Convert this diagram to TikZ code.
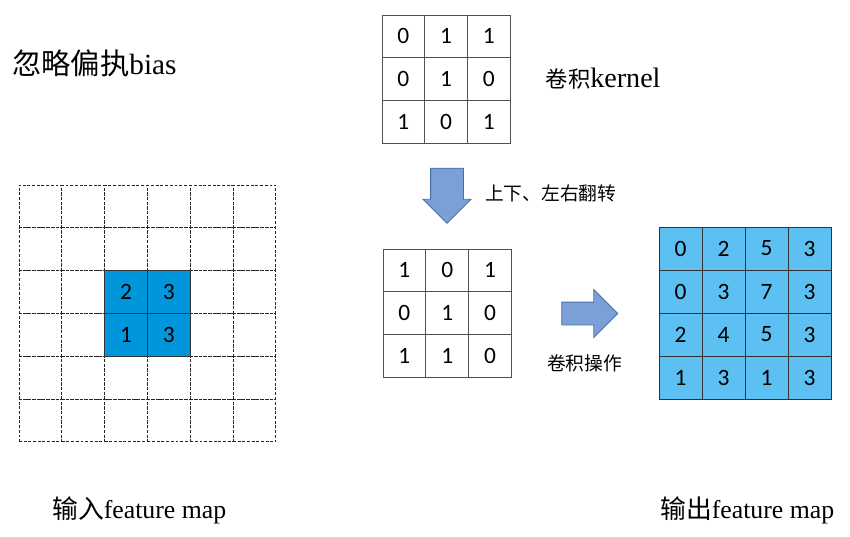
\documentclass[tikz,border=0pt]{standalone}
\usepackage{fontspec}
\setmainfont{Liberation Serif}
\newfontfamily\cjk{Noto Sans CJK SC}
\newfontfamily\digitfont{Carlito}
\usetikzlibrary{shapes.arrows, positioning}
\definecolor{inblue}{RGB}{0,150,220}
\definecolor{outblue}{RGB}{92,192,242}
\definecolor{arrowfill}{RGB}{122,160,214}
\definecolor{arrowline}{RGB}{72,110,170}
\definecolor{gridline}{RGB}{80,80,80}

\begin{document}
\begin{tikzpicture}[x=0.03cm, y=-0.03cm,
  cell/.style={rectangle, draw=gridline, line width=0.6pt, minimum size=1.285cm, inner sep=0, font=\digitfont\fontsize{20}{20}\selectfont},
  dcell/.style={rectangle, draw=black!85, line width=0.6pt, dash pattern=on 2.5pt off 1.5pt, minimum size=1.285cm, inner sep=0},
  hcell/.style={cell, draw=black!80, fill=inblue},
  ocell/.style={cell, draw=black!80, fill=outblue},
  blockarrow/.style={single arrow, draw=arrowline, fill=arrowfill, thick, inner xsep=0, single arrow head indent=0pt},
  lbl/.style={font=\fontsize{22}{22}\selectfont, inner sep=0, anchor=west},
  note/.style={font=\cjk\fontsize{16}{16}\selectfont, inner sep=0, anchor=west}
]
\useasboundingbox (0,0) rectangle (850,536);
% input feature map, 6x6 dashed
\foreach \r in {1,...,6}
  \foreach \c in {1,...,6}
    \node[dcell] (in-\r-\c) at ({19+42.8*(\c-0.5)},{185+42.8*(\r-0.5)}) {};
\foreach \r/\c/\v in {3/3/2, 3/4/3, 4/3/1, 4/4/3}
  \node[hcell] (hit-\r-\c) at (in-\r-\c) {\v};
% kernel
\foreach \row [count=\r] in {{0,1,1},{0,1,0},{1,0,1}}
  \foreach \v [count=\c] in \row
    \node[cell] (k-\r-\c) at ({382+42.7*(\c-0.5)},{15+42.7*(\r-0.5)}) {\v};
% flipped kernel
\foreach \row [count=\r] in {{1,0,1},{0,1,0},{1,1,0}}
  \foreach \v [count=\c] in \row
    \node[cell] (f-\r-\c) at ({383+42.8*(\c-0.5)},{249+42.8*(\r-0.5)}) {\v};
% output feature map
\foreach \row [count=\r] in {{0,2,5,3},{0,3,7,3},{2,4,5,3},{1,3,1,3}}
  \foreach \v [count=\c] in \row
    \node[ocell] (out-\r-\c) at ({659+43*(\c-0.5)},{227+43*(\r-0.5)}) {\v};
% block arrows
\node[blockarrow, rotate=-90, inner ysep=0.48cm, minimum height=1.65cm, single arrow head extend=0.225cm] (flip) at (447,187.5) {};
\node[blockarrow, inner ysep=0.33cm, minimum height=1.68cm, single arrow head extend=0.375cm] (conv) at (584,313.5) {};
% labels
\node[lbl, font=\fontsize{25}{25}\selectfont] (title) at (12,63) {{\cjk 忽略偏执}bias};
\node[lbl, font=\fontsize{24}{24}\selectfont, right=1.05cm of k-2-3] (kname) {{\cjk\fontsize{19}{19}\selectfont 卷积}kernel};
\node[note] (fliptext) at (485,193) {上下、左右翻转};
\node[note] (convtext) at (547,363) {卷积操作};
\node[lbl] (inname) at (52,510) {{\cjk 输入}feature map};
\node[lbl] (outname) at (660,510) {{\cjk 输出}feature map};
\end{tikzpicture}
\end{document}
